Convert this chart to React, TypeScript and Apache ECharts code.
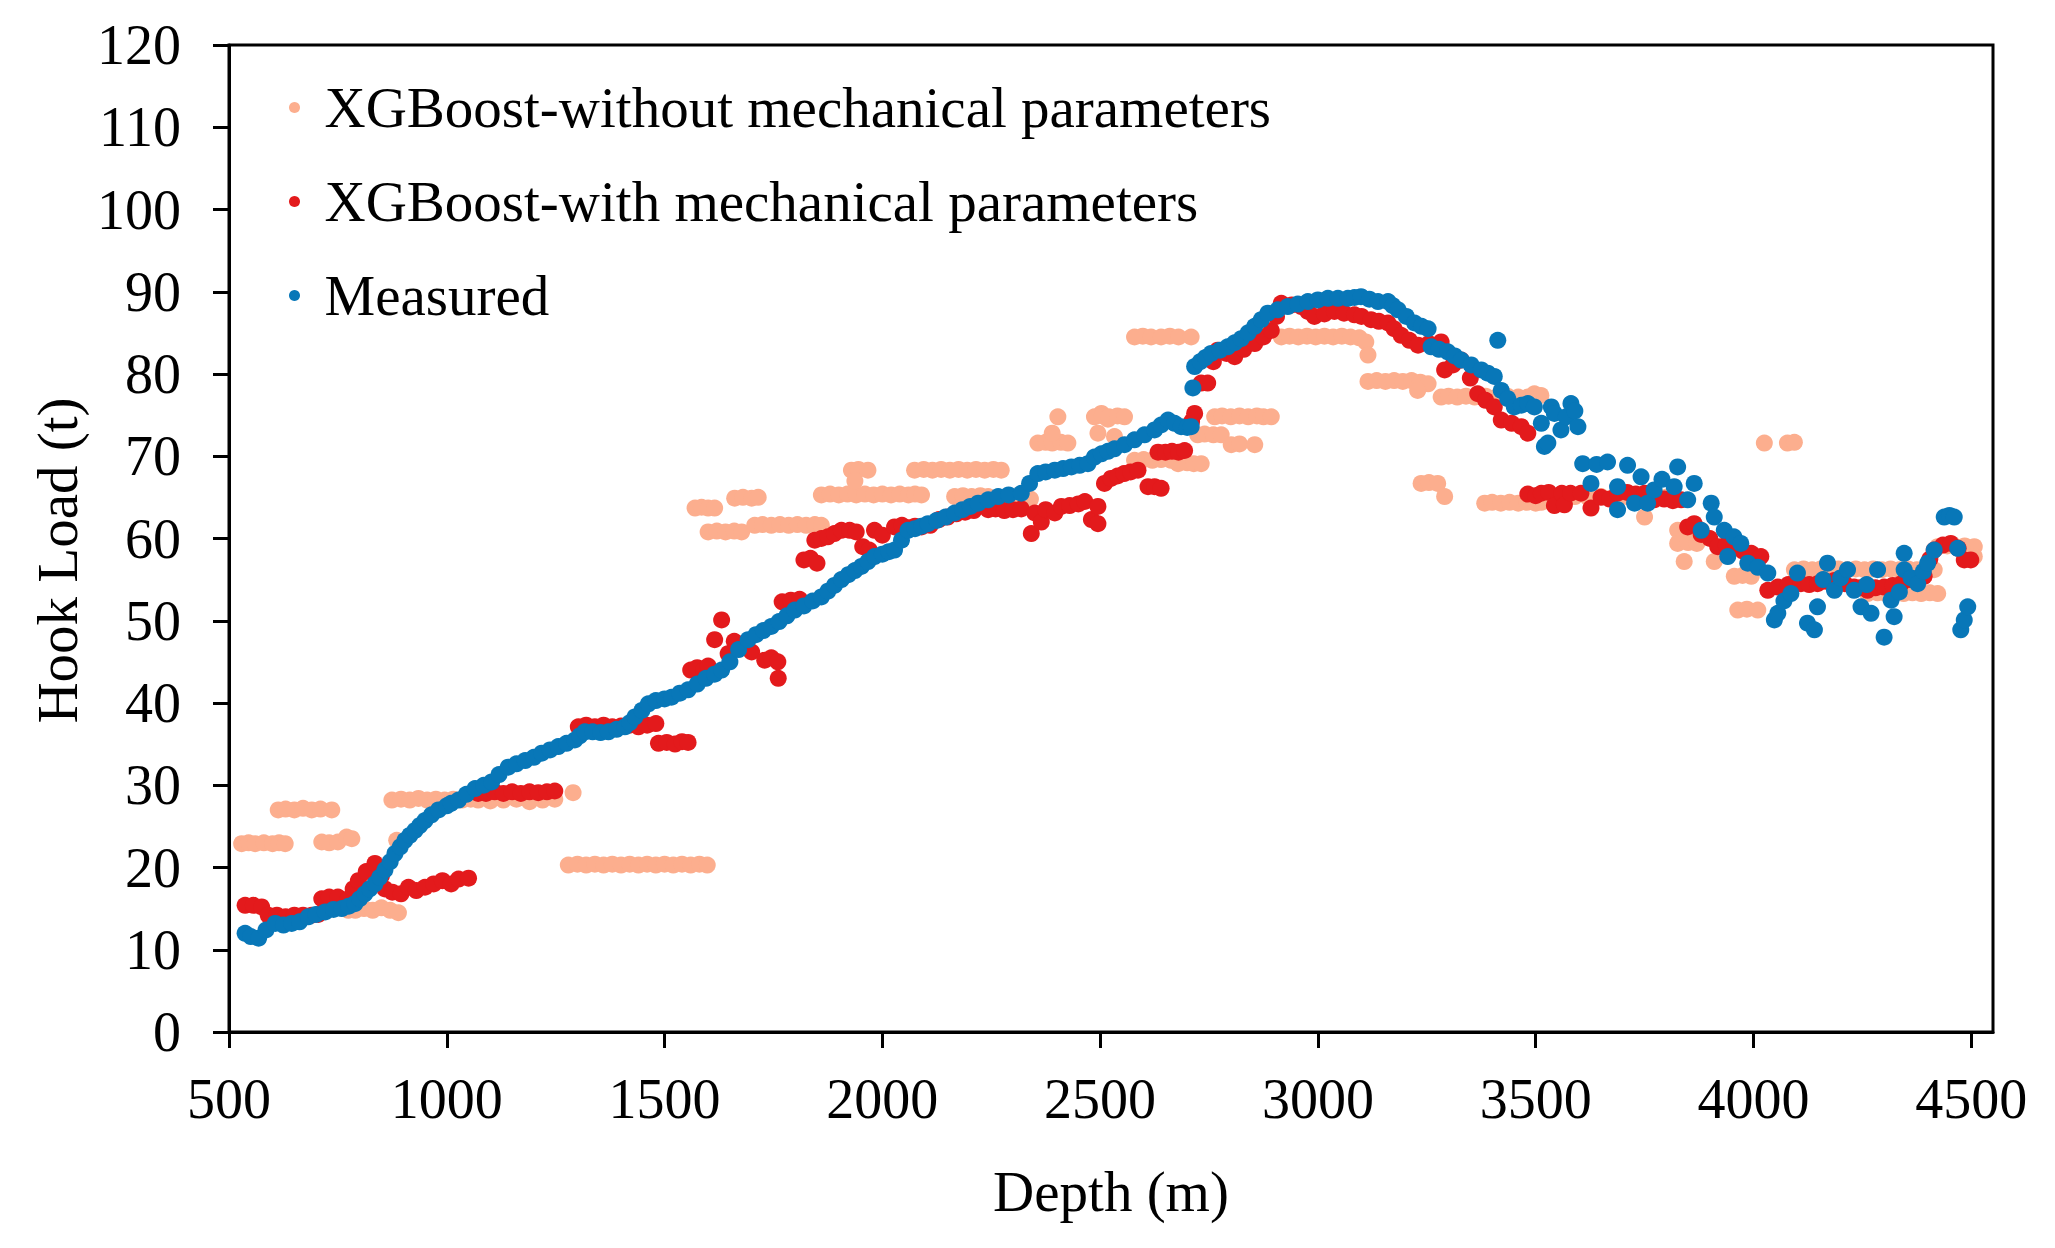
import { useEffect, useRef } from "react";
import * as echarts from "echarts";

// Depth (m), hook load (t) pairs
const xgbWithout: [number, number][] = [
  [529, 22.9], [545, 23.0], [560, 22.9], [580, 23.0], [600, 22.9], [615, 23.0], [629, 22.9],
  [613, 27.0], [630, 27.1], [650, 27.0], [670, 27.2], [690, 27.0], [710, 27.1], [736, 27.0],
  [713, 23.1], [730, 23.0], [750, 23.1], [770, 23.7], [782, 23.5],
  [774, 14.8], [790, 14.8], [810, 15.0], [830, 14.8], [850, 15.1], [870, 14.8], [889, 14.5],
  [885, 23.3],
  [874, 28.2], [895, 28.3], [915, 28.2], [935, 28.4], [955, 28.2], [975, 28.3], [995, 28.2],
  [1015, 28.3], [1035, 28.2], [1055, 28.3], [1072, 28.2], [1100, 28.1], [1130, 28.2], [1160, 28.3],
  [1190, 28.0], [1220, 28.2], [1248, 28.3], [1290, 29.1],
  [1279, 20.3], [1300, 20.4], [1320, 20.3], [1340, 20.4], [1360, 20.3], [1380, 20.4], [1400, 20.3],
  [1420, 20.4], [1440, 20.3], [1460, 20.4], [1480, 20.3], [1500, 20.4], [1520, 20.3], [1540, 20.4],
  [1560, 20.3], [1580, 20.4], [1598, 20.3],
  [1570, 63.7], [1585, 63.8], [1600, 63.7], [1615, 63.7],
  [1600, 60.8], [1620, 60.9], [1640, 60.8], [1660, 60.9], [1677, 60.8],
  [1661, 64.9], [1680, 65.0], [1700, 64.9], [1715, 65.0],
  [1707, 61.6], [1725, 61.7], [1745, 61.6], [1765, 61.7], [1785, 61.6], [1805, 61.7], [1825, 61.6],
  [1845, 61.7], [1860, 61.6],
  [1860, 65.3], [1880, 65.4], [1900, 65.3], [1920, 65.4], [1940, 65.3], [1960, 65.4], [1980, 65.3],
  [2000, 65.4], [2020, 65.3], [2040, 65.4], [2060, 65.3], [2075, 65.4], [2090, 65.3],
  [1929, 68.3], [1945, 68.4], [1967, 68.3], [1937, 67.0],
  [2074, 68.3], [2095, 68.4], [2115, 68.3], [2135, 68.4], [2155, 68.3], [2175, 68.4], [2195, 68.3],
  [2215, 68.4], [2235, 68.3], [2255, 68.4], [2273, 68.3],
  [2166, 65.1], [2185, 65.2], [2205, 65.1], [2225, 65.2], [2243, 65.1], [2262, 64.8], [2282, 64.9],
  [2302, 64.8], [2322, 64.9], [2340, 64.8],
  [2357, 71.6], [2375, 71.7], [2390, 71.6], [2410, 71.7], [2426, 71.6], [2390, 72.8], [2403, 74.8],
  [2503, 75.2], [2518, 74.5], [2533, 72.4],
  [2487, 74.8], [2505, 74.9], [2520, 74.8], [2540, 74.9], [2556, 74.8], [2495, 72.8],
  [2579, 84.5], [2598, 84.6], [2617, 84.5], [2640, 84.5], [2660, 84.6], [2680, 84.5], [2709, 84.5],
  [2579, 69.5], [2600, 69.6], [2620, 69.5], [2640, 69.6], [2663, 69.5], [2679, 69.1], [2700, 69.2],
  [2715, 69.1], [2732, 69.1],
  [2724, 72.6], [2740, 72.7], [2760, 72.6], [2778, 72.6],
  [2763, 74.8], [2780, 74.9], [2800, 74.8], [2820, 74.9], [2840, 74.8], [2860, 74.9], [2875, 74.8],
  [2893, 74.8], [2801, 71.4], [2820, 71.5], [2855, 71.4],
  [2916, 84.5], [2935, 84.6], [2955, 84.5], [2975, 84.6], [2995, 84.5], [3015, 84.6], [3035, 84.5],
  [3055, 84.6], [3075, 84.5], [3095, 84.4], [3110, 83.9], [3115, 82.3],
  [3115, 79.1], [3135, 79.2], [3155, 79.1], [3175, 79.2], [3195, 79.1], [3215, 79.2], [3235, 79.0],
  [3253, 78.8], [3229, 78.0],
  [3283, 77.2], [3300, 77.3], [3320, 77.2], [3340, 77.3], [3360, 77.2], [3385, 77.3], [3410, 77.2],
  [3435, 77.3], [3460, 77.2], [3482, 77.2], [3497, 77.6], [3512, 77.4],
  [3237, 66.7], [3255, 66.8], [3275, 66.7], [3291, 65.1],
  [3383, 64.3], [3400, 64.4], [3420, 64.3], [3440, 64.4], [3460, 64.3], [3480, 64.4], [3500, 64.3],
  [3513, 64.4], [3530, 65.1], [3560, 65.0], [3590, 65.1], [3620, 65.0], [3650, 65.1], [3680, 65.0],
  [3710, 65.1], [3740, 65.0], [3770, 65.1], [3800, 65.0], [3750, 62.6],
  [3826, 61.0], [3845, 61.1], [3865, 61.0], [3880, 61.0], [3826, 59.4], [3850, 59.5], [3870, 59.4],
  [3841, 57.2], [3910, 57.2], [3941, 60.2], [3956, 55.4], [3975, 55.5], [3995, 55.4],
  [3964, 51.3], [3985, 51.4], [4010, 51.3],
  [4025, 71.6], [4078, 71.6], [4094, 71.7],
  [4094, 56.2], [4115, 56.3], [4135, 56.2], [4155, 56.3], [4175, 56.2], [4195, 56.3], [4215, 56.2],
  [4235, 56.3], [4255, 56.2], [4275, 56.3], [4295, 56.2], [4315, 56.3], [4335, 56.2], [4355, 56.3],
  [4375, 56.2], [4395, 56.3], [4415, 56.2],
  [4262, 53.3], [4285, 53.4], [4305, 53.3], [4325, 53.4], [4345, 53.3], [4365, 53.4], [4385, 53.3],
  [4405, 53.4], [4423, 53.3],
  [4423, 59.0], [4445, 59.1], [4465, 59.0], [4485, 59.1], [4507, 59.0], [4507, 57.8],
];

const xgbWith: [number, number][] = [
  [537, 15.4], [556, 15.4], [575, 15.2], [590, 14.2], [610, 14.2], [630, 14.0], [650, 14.2],
  [670, 14.2], [690, 14.2], [705, 14.3], [713, 16.2], [730, 16.4], [750, 16.4], [774, 16.2],
  [785, 17.4], [797, 18.4], [815, 19.5], [835, 20.5], [850, 19.0], [858, 17.4], [875, 17.0],
  [895, 16.8], [912, 17.6], [930, 17.2], [950, 17.6], [970, 18.0], [990, 18.4], [1010, 18.0],
  [1027, 18.6], [1050, 18.7],
  [1072, 29.0], [1090, 29.0], [1110, 29.2], [1130, 29.0], [1150, 29.2], [1170, 29.0], [1190, 29.2],
  [1210, 29.1], [1230, 29.2], [1248, 29.3],
  [1302, 37.1], [1320, 37.3], [1340, 37.1], [1360, 37.3], [1380, 37.1], [1400, 37.2], [1420, 37.3],
  [1440, 37.1], [1460, 37.3], [1480, 37.5],
  [1486, 35.1], [1505, 35.2], [1524, 35.0], [1540, 35.3], [1554, 35.2],
  [1560, 44.0], [1575, 44.3], [1590, 44.0], [1600, 44.5], [1615, 47.7], [1631, 50.1], [1646, 46.0],
  [1660, 47.5], [1680, 47.0], [1700, 46.2], [1730, 45.2], [1745, 45.5], [1760, 45.0], [1761, 43.0],
  [1770, 52.3], [1790, 52.5], [1810, 52.6],
  [1820, 57.4], [1835, 57.6], [1850, 57.0], [1845, 59.8], [1860, 60.0], [1875, 60.2], [1890, 60.6],
  [1906, 61.0], [1925, 61.0], [1940, 60.8], [1955, 59.0], [1970, 58.6], [1982, 61.0], [2000, 60.4],
  [2028, 61.4], [2045, 61.6], [2060, 61.3], [2075, 61.5], [2090, 61.4], [2110, 61.6], [2130, 62.3],
  [2150, 62.6], [2170, 63.0], [2190, 63.2], [2210, 63.4], [2243, 63.5], [2260, 63.6], [2280, 63.4],
  [2300, 63.5], [2319, 63.6], [2342, 60.6], [2350, 63.1], [2365, 62.0], [2375, 63.5], [2396, 63.1],
  [2411, 63.9], [2430, 64.0], [2450, 64.2], [2465, 64.5], [2480, 62.3], [2495, 61.8], [2495, 63.9],
  [2510, 66.7], [2525, 67.3], [2540, 67.6], [2555, 67.9], [2570, 68.1], [2587, 68.3],
  [2610, 66.3], [2625, 66.3], [2640, 66.1],
  [2633, 70.5], [2650, 70.5], [2665, 70.6], [2680, 70.5], [2694, 70.7], [2710, 74.2], [2717, 75.2],
  [2732, 78.9], [2747, 78.9], [2760, 81.5], [2770, 82.9], [2790, 82.5], [2809, 82.1], [2830, 83.0],
  [2855, 83.7], [2875, 84.5], [2893, 85.3], [2905, 87.0], [2916, 88.6], [2940, 88.4], [2962, 88.2],
  [2977, 87.6], [2992, 87.0], [3015, 87.3], [3038, 87.6], [3060, 87.4], [3084, 87.2], [3100, 87.0],
  [3122, 86.6], [3140, 86.4], [3161, 86.2], [3175, 85.5], [3191, 84.7], [3210, 84.1], [3230, 83.5],
  [3255, 83.7], [3283, 83.9], [3291, 80.5], [3310, 81.1], [3329, 81.7], [3350, 79.5], [3367, 77.6],
  [3385, 76.8], [3405, 76.0], [3421, 74.4], [3445, 74.0], [3467, 73.6], [3482, 72.8],
  [3482, 65.4], [3500, 65.2], [3513, 65.5], [3530, 65.6], [3543, 64.0], [3560, 65.5], [3566, 64.1],
  [3580, 65.5], [3604, 65.5], [3627, 63.7], [3650, 65.0], [3670, 64.8], [3688, 65.5], [3710, 65.6],
  [3730, 65.4], [3750, 65.5], [3772, 64.7], [3795, 64.8], [3815, 64.6], [3834, 64.7], [3849, 61.4],
  [3864, 61.8], [3880, 60.5], [3900, 60.0], [3918, 59.0], [3937, 59.2], [3956, 59.0], [3975, 58.5],
  [3995, 58.2], [4017, 57.8], [4033, 53.7], [4056, 54.1], [4080, 54.4], [4109, 54.5], [4128, 54.4],
  [4147, 54.5], [4166, 54.8], [4186, 54.9], [4210, 54.5], [4231, 54.1], [4245, 54.0], [4262, 53.7],
  [4280, 54.0], [4300, 54.1], [4320, 54.3], [4339, 54.5], [4360, 55.0], [4380, 55.2], [4392, 55.4],
  [4405, 57.5], [4415, 58.6], [4435, 59.2], [4453, 59.4], [4470, 58.8], [4484, 57.4], [4499, 57.4],
];

const measured: [number, number][] = [
  [537, 12.0], [550, 11.6], [568, 11.4], [585, 12.4], [606, 13.2], [625, 13.0], [644, 13.2],
  [662, 13.4], [682, 14.0], [700, 14.3], [721, 14.6], [740, 14.9], [759, 15.0], [775, 15.3],
  [789, 15.6], [800, 16.2], [812, 16.8], [823, 17.4], [835, 18.0], [846, 18.8], [858, 19.7],
  [870, 20.7], [881, 21.7], [893, 22.5], [904, 23.3], [915, 23.9], [927, 24.5], [938, 25.1],
  [950, 25.7], [965, 26.4], [981, 27.0], [1000, 27.5], [1010, 27.8], [1027, 28.2], [1045, 28.9],
  [1065, 29.6], [1085, 30.0], [1103, 30.4], [1120, 31.3], [1141, 32.2], [1160, 32.6], [1180, 33.0],
  [1200, 33.4], [1218, 33.9], [1237, 34.3], [1256, 34.7], [1275, 35.1], [1294, 35.5], [1305, 36.0],
  [1317, 36.5], [1335, 36.5], [1353, 36.4], [1371, 36.5], [1390, 36.8], [1409, 37.1], [1420, 37.6],
  [1432, 38.3], [1448, 39.1], [1463, 39.9], [1480, 40.3], [1500, 40.5], [1516, 40.7], [1535, 41.2],
  [1554, 41.6], [1575, 42.3], [1595, 43.0], [1615, 43.5], [1631, 44.0], [1650, 45.0], [1670, 46.5],
  [1692, 47.7], [1710, 48.3], [1727, 48.8], [1745, 49.3], [1763, 49.9], [1781, 50.6], [1799, 51.3],
  [1820, 51.8], [1840, 52.4], [1860, 52.9], [1875, 53.6], [1890, 54.3], [1906, 55.0], [1922, 55.6],
  [1937, 56.1], [1952, 56.6], [1967, 57.2], [1982, 57.8], [2000, 58.1], [2015, 58.4], [2028, 58.6],
  [2044, 59.8], [2059, 61.0], [2075, 61.2], [2090, 61.5], [2105, 61.8], [2125, 62.2], [2145, 62.6],
  [2166, 63.1], [2184, 63.5], [2202, 63.9], [2220, 64.3], [2243, 64.7], [2266, 65.1], [2290, 65.3],
  [2319, 65.5], [2338, 66.7], [2357, 67.9], [2375, 68.1], [2396, 68.3], [2415, 68.5], [2434, 68.7],
  [2453, 68.9], [2472, 69.1], [2487, 69.9], [2503, 70.3], [2518, 70.6], [2533, 70.9], [2556, 71.4],
  [2579, 72.0], [2602, 72.6], [2625, 73.2], [2640, 73.8], [2656, 74.4], [2671, 74.0], [2686, 73.6],
  [2700, 73.5], [2709, 73.6], [2713, 78.3], [2717, 80.9], [2730, 81.5], [2742, 82.0], [2755, 82.5],
  [2775, 82.9], [2793, 83.3], [2809, 83.8], [2824, 84.3], [2840, 85.0], [2855, 85.8], [2870, 86.6],
  [2885, 87.4], [2908, 87.8], [2931, 88.2], [2954, 88.5], [2977, 88.8], [3000, 89.0], [3023, 89.2],
  [3046, 89.2], [3069, 89.2], [3084, 89.3], [3099, 89.4], [3118, 89.1], [3138, 88.8], [3161, 88.8],
  [3172, 88.3], [3184, 87.8], [3203, 87.0], [3222, 86.2], [3238, 85.8], [3253, 85.5], [3260, 83.3],
  [3278, 83.0], [3298, 82.7], [3314, 82.2], [3329, 81.7], [3352, 81.1], [3375, 80.5], [3390, 80.1],
  [3405, 79.7], [3413, 84.1], [3421, 78.0], [3436, 77.0], [3451, 76.0], [3467, 76.2], [3482, 76.4],
  [3497, 76.0], [3513, 74.0], [3520, 71.2], [3528, 71.6], [3536, 76.0], [3543, 75.2], [3558, 73.2],
  [3570, 74.8], [3581, 76.4], [3590, 75.5], [3597, 73.6],
  [3608, 69.1], [3627, 66.7], [3640, 69.0], [3665, 69.3], [3688, 66.3], [3688, 63.5], [3711, 68.9],
  [3727, 64.3], [3742, 67.5], [3757, 64.3], [3772, 65.9], [3790, 67.2], [3818, 66.3], [3826, 68.7],
  [3849, 64.7], [3864, 66.7], [3880, 61.0], [3903, 64.3], [3910, 62.6], [3933, 61.0], [3941, 57.8],
  [3955, 60.2], [3971, 59.4], [3987, 57.0], [4010, 56.5], [4033, 55.8], [4048, 50.1], [4056, 50.9],
  [4070, 52.4], [4086, 53.3], [4101, 55.8], [4124, 49.7], [4140, 48.9], [4147, 51.7], [4160, 55.0],
  [4170, 57.0], [4186, 53.7], [4200, 55.2], [4216, 56.2], [4231, 53.7], [4247, 51.7], [4260, 54.4],
  [4270, 50.9], [4285, 56.2], [4300, 48.0], [4316, 52.5], [4323, 50.5], [4335, 53.5], [4346, 58.2],
  [4346, 56.2], [4362, 55.2], [4377, 54.5], [4390, 56.0], [4400, 57.0], [4415, 58.6], [4438, 62.6],
  [4450, 62.8], [4461, 62.6], [4469, 58.8], [4476, 48.9], [4484, 50.1], [4492, 51.7],
];

const depthTicks = [500, 1000, 1500, 2000, 2500, 3000, 3500, 4000, 4500];
const seriesNames = [
  "XGBoost-without mechanical parameters",
  "XGBoost-with mechanical parameters",
  "Measured",
];
const seriesColors = ["#FCAE8E", "#E31A1C", "#0877B8"];

const FONT = "'Liberation Serif', 'Times New Roman', serif";

export default function App() {
  const ref = useRef<HTMLDivElement>(null);

  useEffect(() => {
    if (!ref.current) return;
    const chart = echarts.init(ref.current, undefined, { renderer: "svg" });

    const dataSets = [xgbWithout, xgbWith, measured];

    chart.setOption({
      animation: false,
      backgroundColor: "#ffffff",
      textStyle: { fontFamily: FONT },
      grid: {
        left: 229,
        right: 62,
        top: 45,
        bottom: 216,
        show: true,
        borderColor: "#000",
        borderWidth: 3,
      },
      legend: {
        orient: "vertical",
        left: 284,
        top: 74,
        itemWidth: 50,
        itemHeight: 11,
        itemGap: 37,
        icon: "circle",
        data: seriesNames,
        textStyle: { fontFamily: FONT, fontSize: 57, color: "#000" },
      },
      xAxis: {
        type: "value",
        min: 500,
        max: 4550,
        name: "Depth (m)",
        nameLocation: "middle",
        nameGap: 131,
        nameTextStyle: { fontFamily: FONT, fontSize: 57, color: "#000" },
        axisLine: { onZero: false, lineStyle: { color: "#000", width: 3 } },
        axisTick: {
          show: true,
          inside: false,
          length: 16,
          customValues: depthTicks,
          lineStyle: { color: "#000", width: 3 },
        },
        axisLabel: {
          customValues: depthTicks,
          margin: 39,
          fontFamily: FONT,
          fontSize: 56,
          color: "#000",
          formatter: (v: number) => String(v),
        },
        splitLine: { show: false },
      },
      yAxis: {
        type: "value",
        min: 0,
        max: 120,
        interval: 10,
        name: "Hook Load (t)",
        nameLocation: "middle",
        nameGap: 142,
        nameTextStyle: {
          fontFamily: FONT,
          fontSize: 57,
          color: "#000",
          padding: [0, 44, 0, 0],
        },
        axisLine: { show: true, lineStyle: { color: "#000", width: 3 } },
        axisTick: { show: true, inside: false, length: 16, lineStyle: { color: "#000", width: 3 } },
        axisLabel: { margin: 48, fontFamily: FONT, fontSize: 56, color: "#000" },
        splitLine: { show: false },
      },
      series: dataSets.map((d, i) => ({
        name: seriesNames[i],
        type: "scatter",
        symbol: "circle",
        symbolSize: 17,
        itemStyle: { color: seriesColors[i], opacity: 1 },
        data: d,
        z: 2 + i,
      })),
    } as echarts.EChartsOption);

    return () => {
      chart.dispose();
    };
  }, []);

  return (
    <div
      ref={ref}
      style={{ position: "absolute", left: 0, top: 0, width: 2055, height: 1248, background: "#fff" }}
    />
  );
}
